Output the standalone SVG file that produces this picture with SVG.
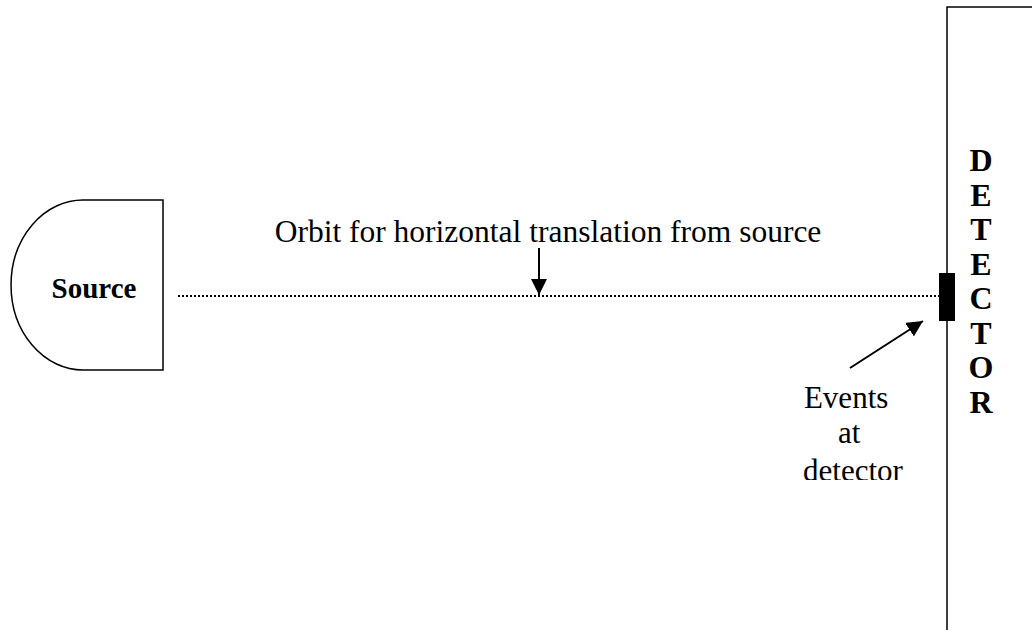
<svg xmlns="http://www.w3.org/2000/svg" width="1032" height="630" viewBox="0 0 1032 630">
<style>
.shape{fill:#fff;stroke:#000;stroke-width:1.5}
.t{font-family:"Liberation Serif","Times New Roman",serif;fill:#000}
.b{font-weight:bold}
</style>
<defs>
<marker id="ah2" markerWidth="16" markerHeight="16" refX="16" refY="8" orient="auto" markerUnits="userSpaceOnUse" viewBox="0 0 16 16">
<path d="M0,0 L16,8 L0,16 Z" fill="#000"/>
</marker>
</defs>
<rect width="1032" height="630" fill="#fff"/>
<g id="source">
<path class="shape" d="M83,200 L163,200 L163,370 L83,370 A72,85 0 0 1 83,200 Z"/>
<text class="t b" x="94" y="298" font-size="29" text-anchor="middle">Source</text>
</g>
<g id="detector">
<path class="shape" d="M1040,7 L947,7 L947,640"/>
<rect x="939" y="273" width="16" height="48" fill="#000"/>
<g class="t b" font-size="32" text-anchor="middle">
<text x="981" y="171">D</text>
<text x="981" y="205.5">E</text>
<text x="981" y="240">T</text>
<text x="981" y="274.5">E</text>
<text x="981" y="309">C</text>
<text x="981" y="343.5">T</text>
<text x="981" y="378">O</text>
<text x="981" y="412.5">R</text>
</g>
</g>
<g id="orbit-label">
<text class="t" x="548" y="242" font-size="31.5" text-anchor="middle">Orbit for horizontal translation from source</text>
</g>
<g id="events-label">
<svg x="780" y="370" width="150" height="110" overflow="hidden">
<text class="t" font-size="31" text-anchor="middle">
<tspan x="70" y="38">Events</tspan>
<tspan x="73" y="73">at</tspan>
<tspan x="73" y="111">detector</tspan>
</text>
</svg>
</g>
<g id="connectors" stroke="#000" fill="none">
<line x1="178" y1="296" x2="939" y2="296" stroke-width="2" stroke-dasharray="2,2"/>
<line x1="539" y1="248" x2="539" y2="295" stroke-width="2" marker-end="url(#ah2)"/>
<line x1="850" y1="368" x2="923" y2="321" stroke-width="2" marker-end="url(#ah2)"/>
</g>
</svg>
